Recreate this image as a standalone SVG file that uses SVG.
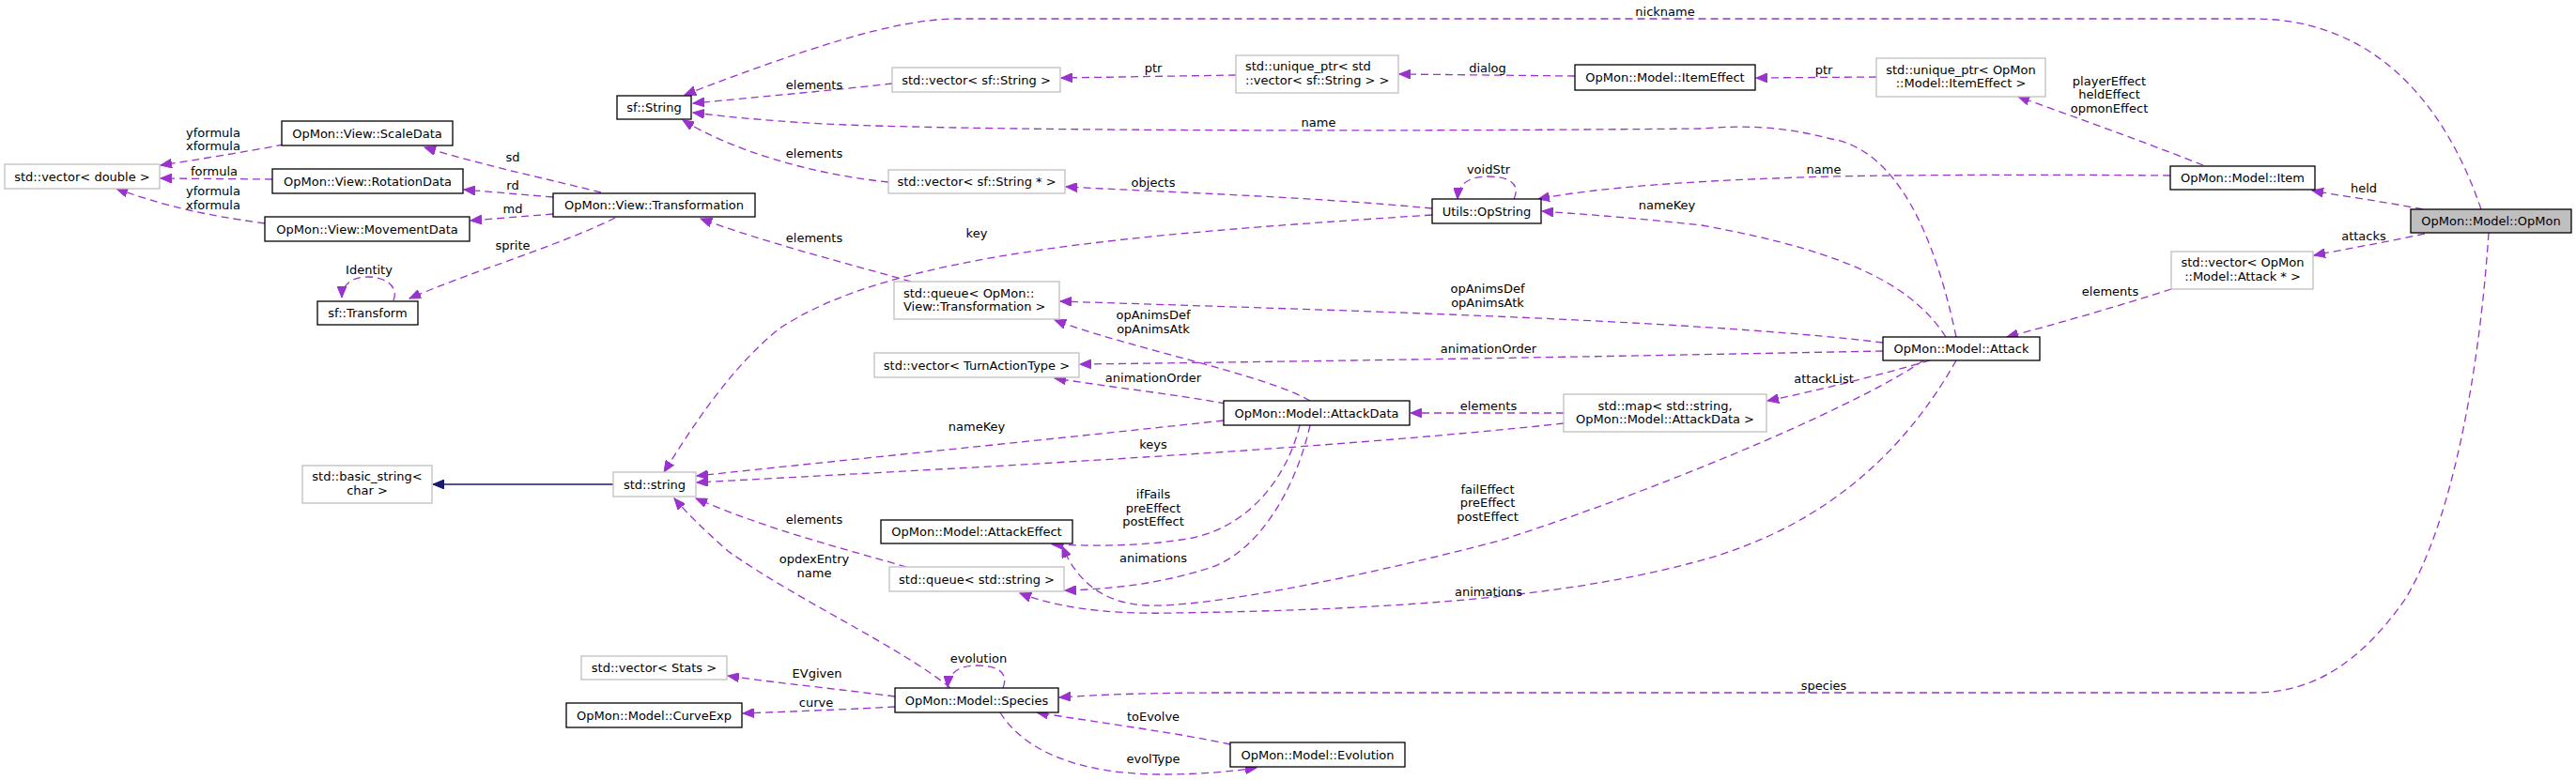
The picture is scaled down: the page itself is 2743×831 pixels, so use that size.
<svg xmlns="http://www.w3.org/2000/svg" width="2743" height="831" viewBox="0 0 2743 831">
<style>
text{font-family:"DejaVu Sans","Liberation Sans",sans-serif;font-size:13px;fill:#000}
.c{text-anchor:middle}
.s{text-anchor:start}
.b{fill:#fff;stroke:#000;stroke-width:1.3}
.g{fill:#fff;stroke:#bfbfbf;stroke-width:1.3}
.o{fill:#bfbfbf;stroke:#000;stroke-width:1.3}
.e{fill:none;stroke:#9a32cd;stroke-width:1.3;stroke-dasharray:8,5;marker-end:url(#a)}
.i{fill:none;stroke:#191970;stroke-width:1.3;marker-end:url(#h)}
</style>
<defs>
<marker id="a" markerUnits="userSpaceOnUse" markerWidth="13" markerHeight="10" refX="12" refY="5" orient="auto"><path d="M0,0L12,5L0,10z" fill="#9a32cd" stroke="#9a32cd" stroke-width="1"/></marker>
<marker id="h" markerUnits="userSpaceOnUse" markerWidth="13" markerHeight="10" refX="12" refY="5" orient="auto"><path d="M0,0L12,5L0,10z" fill="#191970" stroke="#191970" stroke-width="1"/></marker>
</defs>
<rect width="2743" height="831" fill="#fff"/>
<g id="edges">
<path class="e" d="M2642,223 C2600,100 2520,20 2400,20 L1019,20 C950,20 850,55 729,101"/>
<path class="e" d="M950,89 C880,97 800,104 738,110"/>
<path class="e" d="M2083,359 C2060,250 2020,160 1950,148 C1900,135 1860,133 1812,137 C1500,140 1100,140 900,133 C830,130 780,125 738,120"/>
<path class="e" d="M946,194 C860,185 780,160 727,128"/>
<path class="e" d="M1316,80 L1130,83"/>
<path class="e" d="M1677,81 L1490,79"/>
<path class="e" d="M1998,82 L1870,83"/>
<path class="e" d="M2346,176 C2280,150 2210,125 2149,103"/>
<path class="e" d="M2311,187 C2200,186 2050,186 1950,188 C1800,192 1700,200 1638,212"/>
<path class="e" d="M1612,212 C1620,195 1605,188 1585,188 C1565,188 1553,195 1552,212"/>
<path class="e" d="M2072,359 C2040,310 1980,270 1812,240 C1720,230 1680,228 1642,225"/>
<path class="e" d="M1525,222 C1400,210 1250,205 1135,199"/>
<path class="e" d="M1525,229 C1200,250 950,270 830,350 C780,390 740,450 707,503"/>
<path class="e" d="M970,300 C900,280 820,260 746,233"/>
<path class="e" d="M640,205 C580,190 510,175 452,157"/>
<path class="e" d="M589,210 L494,202"/>
<path class="e" d="M589,228 L501,235"/>
<path class="e" d="M655,232 C600,260 500,290 436,318"/>
<path class="e" d="M419,320 C425,305 410,295 392,295 C375,295 364,303 364,317"/>
<path class="e" d="M302,154 C260,162 210,170 171,176"/>
<path class="e" d="M290,191 L171,190"/>
<path class="e" d="M282,238 C240,232 190,225 124,201"/>
<path class="e" d="M2005,365 C1800,340 1400,330 1129,321"/>
<path class="e" d="M1395,427 C1350,400 1200,370 1123,341"/>
<path class="e" d="M2005,374 C1700,380 1400,385 1150,388"/>
<path class="e" d="M1305,430 C1250,420 1180,412 1123,403"/>
<path class="e" d="M1665,440 L1502,440"/>
<path class="e" d="M2055,384 C2000,400 1940,415 1882,427"/>
<path class="e" d="M1303,448 C1100,470 900,490 742,507"/>
<path class="e" d="M1665,451 C1400,480 1000,500 742,514"/>
<path class="i" d="M653,516 L461,516"/>
<path class="e" d="M965,604 C900,585 820,565 741,531"/>
<path class="e" d="M1012,733 C960,690 850,640 775,587 C750,565 730,545 718,531"/>
<path class="e" d="M1384,453 C1370,510 1330,560 1270,573 C1220,582 1170,582 1120,580"/>
<path class="e" d="M2048,384 C1990,425 1800,510 1600,575 C1450,615 1280,648 1220,645 C1170,642 1145,615 1131,582"/>
<path class="e" d="M1395,453 C1380,520 1340,590 1285,606 C1235,622 1180,628 1134,629"/>
<path class="e" d="M2083,384 C2040,460 1960,560 1800,600 C1650,640 1450,650 1250,653 C1170,655 1120,645 1086,632"/>
<path class="e" d="M2650,248 C2640,400 2610,560 2560,640 C2510,710 2460,738 2400,738 L1300,738 C1230,738 1170,740 1128,743"/>
<path class="e" d="M953,742 C900,735 830,728 775,720"/>
<path class="e" d="M953,753 C900,756 840,758 791,760"/>
<path class="e" d="M1068,733 C1075,715 1060,709 1040,709 C1020,709 1010,718 1009,732"/>
<path class="e" d="M1310,793 C1250,780 1170,770 1104,759"/>
<path class="e" d="M1065,759 C1090,800 1150,825 1237,825 C1280,825 1310,822 1338,818"/>
<path class="e" d="M2580,223 C2540,215 2500,210 2462,203"/>
<path class="e" d="M2582,249 C2540,258 2500,265 2464,272"/>
<path class="e" d="M2312,308 C2260,325 2190,345 2137,359"/>
<text class="c" x="1773" y="17">nickname</text>
<text class="c" x="867" y="95">elements</text>
<text class="c" x="1404" y="135">name</text>
<text class="c" x="867" y="168">elements</text>
<text class="c" x="1228" y="77">ptr</text>
<text class="c" x="1584" y="77">dialog</text>
<text class="c" x="1942" y="79">ptr</text>
<text class="c" x="2246" y="91">playerEffect</text>
<text class="c" x="2246" y="105">heldEffect</text>
<text class="c" x="2246" y="120">opmonEffect</text>
<text class="c" x="1942" y="185">name</text>
<text class="c" x="1585" y="185">voidStr</text>
<text class="c" x="1775" y="223">nameKey</text>
<text class="c" x="1228" y="199">objects</text>
<text class="c" x="1040" y="253">key</text>
<text class="c" x="867" y="258">elements</text>
<text class="c" x="546" y="172">sd</text>
<text class="c" x="546" y="202">rd</text>
<text class="c" x="546" y="227">md</text>
<text class="c" x="546" y="266">sprite</text>
<text class="c" x="393" y="292">Identity</text>
<text class="c" x="227" y="146">yformula</text>
<text class="c" x="227" y="160">xformula</text>
<text class="c" x="228" y="187">formula</text>
<text class="c" x="227" y="208">yformula</text>
<text class="c" x="227" y="223">xformula</text>
<text class="c" x="1584" y="312">opAnimsDef</text>
<text class="c" x="1584" y="327">opAnimsAtk</text>
<text class="c" x="1228" y="340">opAnimsDef</text>
<text class="c" x="1228" y="355">opAnimsAtk</text>
<text class="c" x="1585" y="376">animationOrder</text>
<text class="c" x="1228" y="407">animationOrder</text>
<text class="c" x="1585" y="437">elements</text>
<text class="c" x="1942" y="408">attackList</text>
<text class="c" x="1040" y="459">nameKey</text>
<text class="c" x="1228" y="478">keys</text>
<text class="c" x="867" y="558">elements</text>
<text class="c" x="867" y="600">opdexEntry</text>
<text class="c" x="867" y="615">name</text>
<text class="c" x="1228" y="531">ifFails</text>
<text class="c" x="1228" y="546">preEffect</text>
<text class="c" x="1228" y="560">postEffect</text>
<text class="c" x="1584" y="526">failEffect</text>
<text class="c" x="1584" y="540">preEffect</text>
<text class="c" x="1584" y="555">postEffect</text>
<text class="c" x="1228" y="599">animations</text>
<text class="c" x="1585" y="635">animations</text>
<text class="c" x="1942" y="735">species</text>
<text class="c" x="870" y="722">EVgiven</text>
<text class="c" x="869" y="753">curve</text>
<text class="c" x="1042" y="706">evolution</text>
<text class="c" x="1228" y="768">toEvolve</text>
<text class="c" x="1228" y="813">evolType</text>
<text class="c" x="2517" y="205">held</text>
<text class="c" x="2517" y="256">attacks</text>
<text class="c" x="2247" y="315">elements</text>
</g>
<g id="n_sfString"><rect class="b" x="657" y="102" width="79" height="25"/><text class="c" x="696.5" y="119">sf::String</text></g>
<g id="n_ScaleData"><rect class="b" x="300" y="129" width="182" height="26"/><text class="c" x="391" y="146.5">OpMon::View::ScaleData</text></g>
<g id="n_vecDouble"><rect class="g" x="5" y="175" width="165" height="26"/><text class="c" x="87.5" y="192.5">std::vector&lt; double &gt;</text></g>
<g id="n_RotationData"><rect class="b" x="290" y="180" width="203" height="26"/><text class="c" x="391.5" y="197.5">OpMon::View::RotationData</text></g>
<g id="n_Transformation"><rect class="b" x="589" y="206" width="215" height="25"/><text class="c" x="696.5" y="223">OpMon::View::Transformation</text></g>
<g id="n_MovementData"><rect class="b" x="282" y="231" width="218" height="26"/><text class="c" x="391" y="248.5">OpMon::View::MovementData</text></g>
<g id="n_sfTransform"><rect class="b" x="338" y="321" width="107" height="25"/><text class="c" x="391.5" y="338">sf::Transform</text></g>
<g id="n_vecSfString"><rect class="g" x="950" y="72" width="179" height="26"/><text class="c" x="1039.5" y="89.5">std::vector&lt; sf::String &gt;</text></g>
<g id="n_uptrVec"><rect class="g" x="1316" y="59" width="173" height="40"/><text class="s" x="1326" y="75">std::unique_ptr&lt; std</text><text class="s" x="1326" y="90">::vector&lt; sf::String &gt; &gt;</text></g>
<g id="n_ItemEffect"><rect class="b" x="1677" y="69" width="192" height="27"/><text class="c" x="1773" y="87">OpMon::Model::ItemEffect</text></g>
<g id="n_uptrItemEffect"><rect class="g" x="1998" y="62" width="180" height="41"/><text class="c" x="2088" y="79">std::unique_ptr&lt; OpMon</text><text class="c" x="2088" y="93">::Model::ItemEffect &gt;</text></g>
<g id="n_vecSfStringPtr"><rect class="g" x="946" y="181" width="188" height="25"/><text class="c" x="1040" y="198">std::vector&lt; sf::String * &gt;</text></g>
<g id="n_OpString"><rect class="b" x="1525" y="212" width="116" height="26"/><text class="c" x="1583" y="229.5">Utils::OpString</text></g>
<g id="n_queueTransf"><rect class="g" x="952" y="300" width="176" height="40"/><text class="s" x="962" y="317">std::queue&lt; OpMon::</text><text class="s" x="962" y="331">View::Transformation &gt;</text></g>
<g id="n_vecTurn"><rect class="g" x="931" y="376" width="218" height="26"/><text class="c" x="1040" y="393.5">std::vector&lt; TurnActionType &gt;</text></g>
<g id="n_Item"><rect class="b" x="2311" y="177" width="154" height="25"/><text class="c" x="2388" y="194">OpMon::Model::Item</text></g>
<g id="n_OpMon"><rect class="o" x="2567" y="223" width="171" height="25"/><text class="c" x="2652.5" y="240">OpMon::Model::OpMon</text></g>
<g id="n_vecAttack"><rect class="g" x="2312" y="268" width="151" height="40"/><text class="c" x="2388" y="284">std::vector&lt; OpMon</text><text class="c" x="2388" y="299">::Model::Attack * &gt;</text></g>
<g id="n_Attack"><rect class="b" x="2005" y="359" width="167" height="25"/><text class="c" x="2088.5" y="376">OpMon::Model::Attack</text></g>
<g id="n_AttackData"><rect class="b" x="1303" y="427" width="198" height="26"/><text class="c" x="1402" y="444.5">OpMon::Model::AttackData</text></g>
<g id="n_map"><rect class="g" x="1665" y="420" width="216" height="40"/><text class="c" x="1773" y="437">std::map&lt; std::string,</text><text class="c" x="1773" y="451">OpMon::Model::AttackData &gt;</text></g>
<g id="n_basicString"><rect class="g" x="322" y="496" width="138" height="40"/><text class="c" x="391" y="512">std::basic_string&lt;</text><text class="c" x="391" y="527">char &gt;</text></g>
<g id="n_stdString"><rect class="g" x="653" y="503" width="88" height="26"/><text class="c" x="697" y="520.5">std::string</text></g>
<g id="n_AttackEffect"><rect class="b" x="938" y="554" width="204" height="25"/><text class="c" x="1040" y="571">OpMon::Model::AttackEffect</text></g>
<g id="n_queueString"><rect class="g" x="947" y="604" width="186" height="26"/><text class="c" x="1040" y="621.5">std::queue&lt; std::string &gt;</text></g>
<g id="n_vecStats"><rect class="g" x="619" y="699" width="155" height="25"/><text class="c" x="696.5" y="716">std::vector&lt; Stats &gt;</text></g>
<g id="n_CurveExp"><rect class="b" x="603" y="749" width="187" height="26"/><text class="c" x="696.5" y="766.5">OpMon::Model::CurveExp</text></g>
<g id="n_Species"><rect class="b" x="953" y="733" width="174" height="26"/><text class="c" x="1040" y="750.5">OpMon::Model::Species</text></g>
<g id="n_Evolution"><rect class="b" x="1310" y="791" width="186" height="26"/><text class="c" x="1403" y="808.5">OpMon::Model::Evolution</text></g>
</svg>
